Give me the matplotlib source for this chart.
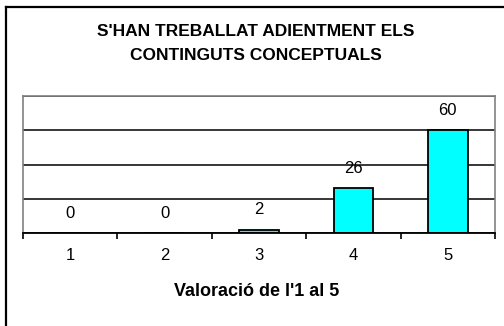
import matplotlib
matplotlib.use("Agg")
import matplotlib.pyplot as plt
from matplotlib.lines import Line2D

categories = ["1", "2", "3", "4", "5"]
values = [0, 0, 2, 26, 60]
title = "S'HAN TREBALLAT ADIENTMENT ELS\nCONTINGUTS CONCEPTUALS"
xlabel = "Valoració de l'1 al 5"

plt.rcParams['font.family'] = ['Liberation Sans', 'DejaVu Sans']

W, H = 504, 326
fig = plt.figure(figsize=(W / 100, H / 100), dpi=100)
# plot area in pixels: x 23..495, y 96..233
ax = fig.add_axes([23 / W, 1 - 233 / H, (495 - 23) / W, (233 - 96) / H])

x = list(range(len(categories)))
bars = ax.bar(x, values, width=0.42, color='#00FFFF', edgecolor='black', linewidth=1.3, zorder=3)

ax.set_xlim(-0.5, len(categories) - 0.5)
ax.set_ylim(0, 80)
ax.set_yticks([0, 20, 40, 60, 80])
ax.yaxis.grid(True, color='black', linewidth=1.1, zorder=1)
ax.tick_params(axis='y', left=False, labelleft=False)

ax.set_xticks(x)
ax.set_xticklabels(categories, fontsize=12)
ax.set_xticks([i - 0.5 for i in range(len(categories) + 1)], minor=True)
ax.tick_params(axis='x', which='major', length=0, pad=11)
ax.tick_params(axis='x', which='minor', length=4, width=1.2, color='black', direction='out')

for side in ['top', 'left', 'right']:
    ax.spines[side].set_color('#808080')
    ax.spines[side].set_linewidth(1.2)
ax.spines['bottom'].set_color('black')
ax.spines['bottom'].set_linewidth(1.3)
ax.spines['bottom'].set_zorder(4)

for xi, v in zip(x, values):
    ax.annotate(str(v), (xi, v), xytext=(0, 20), textcoords='offset pixels',
                ha='center', va='center', fontsize=12)

fig.text(256 / W, 1 - 43.5 / H, title, ha='center', va='center', fontsize=12.5,
         fontweight='bold', linespacing=1.8)
fig.text(257 / W, 1 - 291 / H, xlabel, ha='center', va='center', fontsize=13,
         fontweight='bold')

# outer chart border (only top and left visible in crop)
fig.add_artist(Line2D([6 / W, 1], [1 - 6.5 / H, 1 - 6.5 / H], color='black', linewidth=1.6,
                      transform=fig.transFigure))
fig.add_artist(Line2D([6 / W, 6 / W], [0, 1 - 6.5 / H], color='black', linewidth=1.6,
                      transform=fig.transFigure))

fig.savefig("out.png", dpi=100)
